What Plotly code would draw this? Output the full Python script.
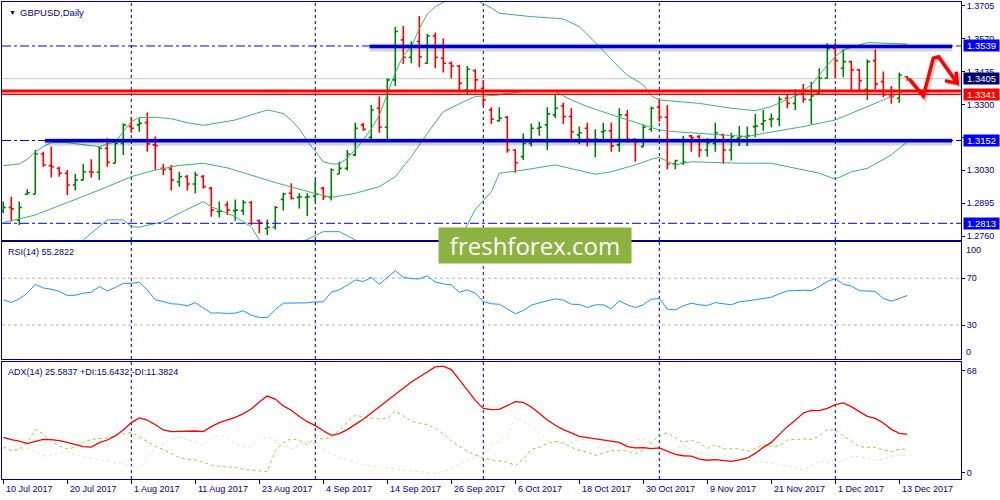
"""
GBPUSD Daily - Nachbau eines MT4-Charts (Kurse, Bollinger-Baender, RSI, ADX) mit Plotly.
"""

import pandas as pd
import plotly.graph_objects as go

NAVY = "#000080"
FONT = "Liberation Sans"

# Handelstage (Mo-Fr) im sichtbaren Bereich
dates = pd.bdate_range("2017-07-10", "2017-12-14")

opens = [
    1.2865, 1.2878, 1.2827, 1.2932, 1.2932, 1.3097, 1.3049, 1.3038, 1.3018, 1.2970,
    1.2990, 1.3024, 1.3022, 1.3120, 1.3059, 1.3140, 1.3209, 1.3216, 1.3225, 1.3134,
    1.3038, 1.3035, 1.2983, 1.3004, 1.2974, 1.3004, 1.2956, 1.2861, 1.2888, 1.2865,
    1.2865, 1.2898, 1.2824, 1.2792, 1.2797, 1.2911, 1.2936, 1.2919, 1.2919, 1.2925,
    1.2956, 1.2919, 1.3015, 1.3038, 1.3093, 1.3216, 1.3165, 1.3284, 1.3206, 1.3400,
    1.3564, 1.3493, 1.3557, 1.3468, 1.3580, 1.3489, 1.3468, 1.3457, 1.3359, 1.3438,
    1.3366, 1.3277, 1.3233, 1.3247, 1.3113, 1.3086, 1.3140, 1.3202, 1.3216, 1.3257,
    1.3293, 1.3250, 1.3175, 1.3202, 1.3154, 1.3188, 1.3192, 1.3134, 1.3257, 1.3157,
    1.3127, 1.3198, 1.3288, 1.3247, 1.3056, 1.3059, 1.3171, 1.3168, 1.3113, 1.3140,
    1.3175, 1.3113, 1.3161, 1.3168, 1.3209, 1.3220, 1.3239, 1.3239, 1.3325, 1.3304,
    1.3343, 1.3318, 1.3345, 1.3407, 1.3529, 1.3448, 1.3475, 1.3441, 1.3362, 1.3479,
    1.3393, 1.3334, 1.3325, 1.3413,
]
highs = [
    1.2902, 1.2922, 1.2902, 1.2952, 1.3113, 1.3106, 1.3127, 1.3045, 1.3031, 1.3015,
    1.3056, 1.3075, 1.3127, 1.3161, 1.3147, 1.3222, 1.3247, 1.3243, 1.3267, 1.3168,
    1.3056, 1.3052, 1.3024, 1.3011, 1.3024, 1.3011, 1.2963, 1.2902, 1.2902, 1.2911,
    1.2908, 1.2904, 1.2829, 1.2829, 1.2884, 1.2938, 1.2977, 1.2936, 1.2936, 1.2990,
    1.2963, 1.3038, 1.3065, 1.3113, 1.3225, 1.3225, 1.3297, 1.3332, 1.3407, 1.3618,
    1.3621, 1.3557, 1.3662, 1.3588, 1.3594, 1.3570, 1.3475, 1.3461, 1.3457, 1.3444,
    1.3400, 1.3288, 1.3288, 1.3252, 1.3116, 1.3181, 1.3222, 1.3229, 1.3288, 1.3338,
    1.3307, 1.3284, 1.3209, 1.3225, 1.3198, 1.3225, 1.3225, 1.3284, 1.3277, 1.3161,
    1.3216, 1.3291, 1.3325, 1.3297, 1.3072, 1.3171, 1.3175, 1.3175, 1.3161, 1.3225,
    1.3181, 1.3184, 1.3211, 1.3209, 1.3261, 1.3277, 1.3263, 1.3332, 1.3338, 1.3362,
    1.3383, 1.3393, 1.3448, 1.3550, 1.3553, 1.3525, 1.3479, 1.3444, 1.3484, 1.3525,
    1.3434, 1.3375, 1.3430, 1.3416,
]
lows = [
    1.2854, 1.2820, 1.2806, 1.2929, 1.2932, 1.3045, 1.3001, 1.3004, 1.2929, 1.2947,
    1.2990, 1.3001, 1.2990, 1.3045, 1.3059, 1.3093, 1.3184, 1.3188, 1.3106, 1.3031,
    1.3011, 1.2947, 1.2963, 1.2947, 1.2936, 1.2956, 1.2840, 1.2837, 1.2847, 1.2824,
    1.2847, 1.2806, 1.2772, 1.2765, 1.2788, 1.2865, 1.2911, 1.2874, 1.2843, 1.2902,
    1.2908, 1.2906, 1.3015, 1.3029, 1.3089, 1.3192, 1.3157, 1.3184, 1.3151, 1.3375,
    1.3465, 1.3468, 1.3452, 1.3465, 1.3448, 1.3430, 1.3407, 1.3359, 1.3343, 1.3348,
    1.3293, 1.3220, 1.3229, 1.3102, 1.3020, 1.3072, 1.3127, 1.3171, 1.3113, 1.3243,
    1.3220, 1.3151, 1.3138, 1.3127, 1.3083, 1.3154, 1.3106, 1.3106, 1.3143, 1.3065,
    1.3124, 1.3188, 1.3229, 1.3034, 1.3034, 1.3052, 1.3106, 1.3083, 1.3086, 1.3106,
    1.3056, 1.3070, 1.3130, 1.3130, 1.3165, 1.3192, 1.3206, 1.3211, 1.3284, 1.3277,
    1.3307, 1.3220, 1.3343, 1.3407, 1.3407, 1.3411, 1.3359, 1.3359, 1.3318, 1.3362,
    1.3329, 1.3302, 1.3307, 1.3397,
]
closes = [
    1.2878, 1.2872, 1.2878, 1.2938, 1.3097, 1.3052, 1.3045, 1.3018, 1.2970, 1.2990,
    1.3024, 1.3022, 1.3120, 1.3063, 1.3140, 1.3216, 1.3202, 1.3222, 1.3138, 1.3131,
    1.3034, 1.2990, 1.3004, 1.2974, 1.3011, 1.2963, 1.2867, 1.2863, 1.2867, 1.2867,
    1.2898, 1.2813, 1.2816, 1.2797, 1.2878, 1.2933, 1.2915, 1.2922, 1.2922, 1.2933,
    1.2922, 1.3031, 1.3038, 1.3097, 1.3202, 1.3198, 1.3277, 1.3206, 1.3400, 1.3598,
    1.3493, 1.3539, 1.3495, 1.3580, 1.3493, 1.3468, 1.3457, 1.3386, 1.3444, 1.3400,
    1.3318, 1.3239, 1.3243, 1.3113, 1.3061, 1.3140, 1.3202, 1.3206, 1.3261, 1.3284,
    1.3250, 1.3188, 1.3184, 1.3157, 1.3157, 1.3192, 1.3130, 1.3257, 1.3157, 1.3147,
    1.3206, 1.3284, 1.3247, 1.3056, 1.3070, 1.3064, 1.3164, 1.3113, 1.3143, 1.3184,
    1.3113, 1.3168, 1.3168, 1.3171, 1.3211, 1.3233, 1.3241, 1.3321, 1.3304, 1.3338,
    1.3321, 1.3334, 1.3407, 1.3529, 1.3479, 1.3475, 1.3441, 1.3397, 1.3475, 1.3383,
    1.3338, 1.3332, 1.3420, 1.3405,
]

bb_upper = [
    (0, 1.3049), (2, 1.3056), (3, 1.3075), (4, 1.3106), (5, 1.3127), (6, 1.3143),
    (8, 1.3143), (10, 1.3134), (12, 1.3127), (14, 1.3147), (15, 1.3188), (16, 1.3229),
    (17, 1.3246), (19, 1.3247), (21, 1.3241), (23, 1.3225), (25, 1.3214), (27, 1.3225),
    (29, 1.3236), (31, 1.3257), (33, 1.3277), (34, 1.3270), (35, 1.3262), (36, 1.3235),
    (37, 1.3200), (38, 1.3150), (39, 1.3105), (40, 1.3065), (41, 1.3056), (42, 1.3056),
    (43, 1.3080), (44, 1.3115), (45, 1.3155), (46, 1.3200), (47, 1.3255), (48, 1.3340),
    (49, 1.3430), (50, 1.3500), (51, 1.3536), (52, 1.3610), (53, 1.3670), (54, 1.3700),
    (55, 1.3718), (56, 1.3735), (58, 1.3745), (59, 1.3730), (60, 1.3712), (61, 1.3695),
    (62, 1.3673), (66, 1.3659), (70, 1.3650), (72, 1.3618), (74, 1.3555), (75, 1.3520),
    (77, 1.3450), (78, 1.3420), (80, 1.3380), (81, 1.3335), (82, 1.3318), (87, 1.3304),
    (91, 1.3284), (94, 1.3274), (96, 1.3291), (99, 1.3335), (101, 1.3379), (102, 1.3420),
    (103, 1.3460), (104, 1.3495), (105, 1.3523), (108, 1.3553), (113, 1.3547),
]
bb_middle = [
    (0, 1.2816), (4, 1.2847), (8, 1.2898), (12, 1.2949), (16, 1.3004), (19, 1.3031),
    (22, 1.3050), (25, 1.3059), (28, 1.3040), (30, 1.3020), (34, 1.2980), (39, 1.2935),
    (41, 1.2919), (44, 1.2936), (47, 1.2963), (49, 1.3004), (51, 1.3086), (53, 1.3181),
    (55, 1.3270), (58, 1.3318), (59, 1.3332), (62, 1.3338), (63, 1.3345), (66, 1.3356),
    (69, 1.3352), (71, 1.3318), (73, 1.3291), (77, 1.3247), (80, 1.3216), (82, 1.3195),
    (84, 1.3188), (87, 1.3181), (90, 1.3175), (93, 1.3168), (95, 1.3181), (100, 1.3209),
    (104, 1.3236), (108, 1.3291), (113, 1.3359),
]
bb_lower = [
    (0, 1.2620), (6, 1.2660), (10, 1.2745), (13, 1.2827), (15, 1.2827), (16, 1.2799),
    (17, 1.2797), (20, 1.2820), (22, 1.2854), (25, 1.2902), (26, 1.2881), (29, 1.2840),
    (31, 1.2799), (32, 1.2745), (35, 1.2700), (38, 1.2747), (40, 1.2779), (42, 1.2779),
    (44, 1.2745), (48, 1.2650), (53, 1.2640), (56, 1.2700), (57, 1.2745), (59, 1.2870),
    (61, 1.2942), (62, 1.3018), (65, 1.3031), (69, 1.3052), (74, 1.3014), (76, 1.3024),
    (79, 1.3052), (81, 1.3075), (82, 1.3083), (84, 1.3052), (86, 1.3065), (92, 1.3059),
    (96, 1.3059), (102, 1.3018), (104, 1.2993), (106, 1.3024), (108, 1.3038), (111, 1.3093),
    (113, 1.3147),
]

rsi = [
    51.6, 49.2, 52.4, 57.2, 64.8, 61.7, 60.6, 58.9, 55.3, 55.5,
    57.2, 58.1, 62.9, 59.2, 62.1, 65.7, 65.7, 66.6, 60.1, 51.6,
    50.1, 48.2, 47.8, 46.4, 49.2, 45.0, 40.2, 40.4, 39.9, 40.2,
    42.2, 38.4, 36.5, 36.5, 43.3, 48.7, 48.7, 48.7, 49.0, 49.8,
    49.8, 58.1, 60.1, 64.1, 68.6, 67.2, 70.8, 64.8, 70.6, 76.5,
    70.8, 69.7, 69.4, 72.0, 66.8, 65.2, 64.3, 58.1, 60.1, 57.2,
    50.1, 48.2, 47.8, 43.9, 39.7, 42.4, 47.0, 49.0, 51.0, 52.4,
    51.3, 47.8, 47.6, 45.0, 47.3, 47.3, 43.9, 50.7, 47.3, 45.0,
    47.3, 52.1, 52.7, 43.6, 43.0, 46.4, 48.7, 47.3, 46.7, 49.2,
    48.2, 47.3, 49.8, 50.4, 51.6, 52.7, 53.8, 56.7, 59.2, 59.4,
    59.8, 59.4, 62.9, 67.2, 69.7, 64.8, 63.4, 59.4, 59.4, 58.8,
    52.7, 50.4, 52.7, 55.3,
]
adx = [
    23.6, 22.0, 21.1, 19.4, 20.9, 22.2, 22.0, 21.4, 20.2, 18.9,
    17.4, 17.1, 20.0, 21.8, 24.5, 28.5, 33.4, 36.5, 35.1, 32.0,
    28.5, 27.4, 27.6, 28.0, 27.8, 27.4, 30.7, 33.4, 35.1, 36.9,
    39.4, 42.5, 47.1, 51.1, 49.1, 44.5, 41.6, 37.4, 34.0, 31.4,
    28.0, 24.9, 26.0, 28.7, 32.2, 35.6, 39.8, 44.0, 48.2, 52.5,
    56.7, 60.5, 63.8, 67.3, 70.5, 71.1, 68.7, 62.0, 55.1, 48.2,
    42.9, 42.0, 42.2, 44.7, 47.4, 46.9, 43.8, 39.6, 35.1, 31.6,
    28.7, 26.5, 24.2, 23.4, 22.5, 22.0, 20.9, 20.2, 17.4, 16.5,
    16.7, 16.0, 16.5, 14.2, 12.2, 11.3, 11.1, 9.1, 8.3, 8.7,
    8.0, 7.6, 8.5, 9.8, 12.9, 16.9, 20.2, 25.6, 30.7, 34.9,
    39.8, 41.6, 41.4, 42.9, 45.4, 46.5, 44.0, 40.7, 37.6, 36.2,
    33.1, 28.9, 26.2, 25.6,
]
plus_di = [
    17.4, 14.7, 15.6, 20.2, 28.7, 25.8, 21.1, 17.8, 15.8, 17.1,
    20.2, 22.2, 22.7, 23.1, 24.5, 26.0, 26.7, 24.0, 20.7, 17.6,
    15.4, 12.5, 10.0, 8.9, 8.5, 7.1, 5.1, 4.2, 4.0, 3.6,
    2.2, 1.6, 0.9, 0.7, 14.7, 20.0, 22.7, 21.6, 18.7, 23.1,
    22.5, 23.6, 28.5, 33.6, 38.5, 36.9, 36.2, 35.8, 36.2, 41.1,
    38.0, 34.2, 33.1, 32.0, 29.6, 25.8, 21.1, 17.4, 14.2, 11.8,
    9.8, 8.5, 8.0, 7.1, 4.7, 9.1, 15.6, 16.9, 19.4, 20.9,
    19.8, 16.9, 14.7, 14.0, 11.4, 12.9, 14.7, 14.7, 14.5, 12.7,
    14.9, 20.0, 24.9, 26.5, 23.1, 20.2, 21.8, 19.8, 16.2, 18.5,
    16.0, 16.0, 15.8, 14.2, 16.0, 18.9, 17.6, 17.8, 21.8, 22.2,
    22.5, 22.2, 24.5, 28.7, 28.5, 24.7, 20.9, 17.4, 16.9, 16.9,
    15.1, 14.0, 15.6, 15.6,
]
minus_di = [
    16.2, 14.5, 15.6, 16.2, 14.0, 11.3, 11.3, 13.4, 14.2, 12.0,
    10.7, 9.8, 8.9, 7.8, 6.9, 5.6, 4.5, 2.9, 9.4, 16.9,
    19.6, 22.2, 23.6, 22.0, 20.7, 18.2, 22.9, 25.1, 22.7, 19.4,
    17.8, 17.1, 21.8, 24.0, 21.8, 17.6, 16.0, 18.5, 20.7, 18.9,
    15.6, 12.5, 10.0, 8.5, 6.9, 5.6, 4.5, 4.0, 3.3, 2.5,
    1.8, 1.1, 0.5, 0.1, 0.0, 0.7, 3.1, 6.5, 8.5, 10.5,
    12.2, 18.2, 20.7, 25.6, 37.0, 34.5, 30.7, 25.8, 21.6, 20.5,
    18.7, 20.5, 22.0, 22.7, 18.2, 16.5, 17.1, 19.4, 19.4, 21.8,
    22.7, 19.1, 15.1, 12.0, 15.8, 17.8, 15.6, 13.1, 11.6, 10.7,
    11.6, 10.0, 8.9, 8.2, 7.8, 7.4, 6.5, 5.6, 4.5, 3.1,
    1.8, 4.5, 8.0, 6.9, 6.2, 8.5, 10.9, 10.7, 9.6, 8.5,
    8.7, 10.9, 11.8, 11.4,
]

price_ticks = [1.3705, 1.3570, 1.3435, 1.3300, 1.3165, 1.3030, 1.2895, 1.2760]
hidden_ticks = [1.3165]  # liegt im Reference-Bild unter der 1.3152-Box
rsi_ticks = [70, 30]
rsi_levels = [70, 30]
adx_ticks = [68, 0]

# gezeichnete Objekte im Kurschart
dashdot_levels = [1.3539, 1.3152, 1.2813]
thick_segments = [(45.8, 118.6, 1.3537), (5.2, 118.6, 1.3151)]
red_levels = [(1.3355, 3), (1.3341, 1.5)]
bid_level = 1.3405
price_boxes = [
    ("1.3539", 1.3539, "#0000ff"),
    ("1.3405", 1.3405, "#000070"),
    ("1.3341", 1.3341, "#ff0000"),
    ("1.3152", 1.3152, "#0000ff"),
    ("1.2813", 1.2813, "#0000ff"),
]
arrow_path = [(113.25, 1.3403), (115.0, 1.3334), (116.25, 1.3489), (116.9, 1.3495), (119.25, 1.3386)]
arrow_head = [(119.1, 1.3434), (119.25, 1.3386), (117.7, 1.3397)]

n = len(dates)
bars = list(range(n))
label_idx = list(range(0, n, 8))
month_idx = [i for i in range(1, n) if dates[i].month != dates[i - 1].month]

fig = go.Figure()

fig.add_trace(go.Ohlc(
    x=bars, open=opens, high=highs, low=lows, close=closes,
    increasing=dict(line=dict(color="#008000", width=1.6)),
    decreasing=dict(line=dict(color="#ff0000", width=1.6)),
    tickwidth=0.32, hoverinfo="skip", showlegend=False,
    xaxis="x", yaxis="y",
))
for band in (bb_upper, bb_middle, bb_lower):
    fig.add_trace(go.Scatter(
        x=[p[0] for p in band], y=[p[1] for p in band], mode="lines",
        line=dict(color="#3cb371", width=1), hoverinfo="skip", showlegend=False,
        xaxis="x", yaxis="y",
    ))

fig.add_trace(go.Scatter(
    x=bars, y=rsi, mode="lines", line=dict(color="#1e90ff", width=1),
    hoverinfo="skip", showlegend=False, xaxis="x2", yaxis="y2",
))

fig.add_trace(go.Scatter(
    x=bars, y=minus_di, mode="lines", line=dict(color="#f5deb3", width=1, dash="dot"),
    hoverinfo="skip", showlegend=False, xaxis="x3", yaxis="y3",
))
fig.add_trace(go.Scatter(
    x=bars, y=plus_di, mode="lines", line=dict(color="#9acd32", width=1, dash="dot"),
    hoverinfo="skip", showlegend=False, xaxis="x3", yaxis="y3",
))
fig.add_trace(go.Scatter(
    x=bars, y=adx, mode="lines", line=dict(color="#ff0000", width=1.3),
    hoverinfo="skip", showlegend=False, xaxis="x3", yaxis="y3",
))

shapes = []
for yref in ("y", "y2", "y3"):
    for m in month_idx:
        shapes.append(dict(
            type="line", xref="x", yref=f"{yref} domain", x0=m, x1=m, y0=0, y1=1,
            line=dict(color=NAVY, width=1, dash="3px,3px"), layer="below",
        ))
for lvl in rsi_levels:
    shapes.append(dict(
        type="line", xref="paper", yref="y2", x0=0, x1=1, y0=lvl, y1=lvl,
        line=dict(color="#b4b4b4", width=1, dash="3px,3px"), layer="below",
    ))
shapes.append(dict(
    type="line", xref="paper", yref="y", x0=0, x1=1, y0=bid_level, y1=bid_level,
    line=dict(color="#c8c8c8", width=1), layer="below",
))
for lvl in dashdot_levels:
    shapes.append(dict(
        type="line", xref="paper", yref="y", x0=0, x1=1, y0=lvl, y1=lvl,
        line=dict(color="#0000ff", width=1, dash="dashdot"),
    ))
for x0, x1, lvl in thick_segments:
    shapes.append(dict(
        type="line", xref="x", yref="y", x0=x0, x1=x1, y0=lvl - 0.0004, y1=lvl - 0.0004,
        line=dict(color="rgba(0,0,0,0.16)", width=8),
    ))
    shapes.append(dict(
        type="line", xref="x", yref="y", x0=x0, x1=x1, y0=lvl, y1=lvl,
        line=dict(color="#0000cd", width=3.5),
    ))
for lvl, w in red_levels:
    shapes.append(dict(
        type="line", xref="paper", yref="y", x0=0, x1=1, y0=lvl, y1=lvl,
        line=dict(color="#ff0000", width=w),
    ))


def svg_path(points, shift=(0.0, 0.0)):
    return "M " + " L ".join(f"{x + shift[0]},{y + shift[1]}" for x, y in points)


arrow_svg = svg_path(arrow_path) + " " + svg_path(arrow_head)
arrow_shadow = svg_path(arrow_path, (0.2, -0.0005)) + " " + svg_path(arrow_head, (0.2, -0.0005))
shapes.append(dict(type="path", xref="x", yref="y", path=arrow_shadow,
                   line=dict(color="rgba(0,0,0,0.18)", width=5)))
shapes.append(dict(type="path", xref="x", yref="y", path=arrow_svg,
                   line=dict(color="#ff0000", width=3.5)))

annotations = []
for text, lvl, color in price_boxes:
    annotations.append(dict(
        xref="paper", yref="y", x=1, y=lvl, xanchor="left", yanchor="middle",
        xshift=2, text=text, showarrow=False, bgcolor=color, width=35, height=11,
        borderpad=0, font=dict(family=FONT, size=9.5, color="white"),
    ))
for i in label_idx:
    d = dates[i]
    annotations.append(dict(
        xref="x3", yref="paper", x=i, y=0, xanchor="left", yanchor="top",
        xshift=1, yshift=-3, text=f"{d.day} {d:%b %Y}", showarrow=False,
        font=dict(family=FONT, size=9, color=NAVY),
    ))
annotations += [
    dict(xref="paper", yref="y domain", x=0.005, y=1, xanchor="left", yanchor="top",
         yshift=-5, text="▼", showarrow=False, font=dict(family=FONT, size=7, color=NAVY)),
    dict(xref="paper", yref="y domain", x=0.017, y=1, xanchor="left", yanchor="top",
         yshift=-3, text="GBPUSD,Daily", showarrow=False,
         font=dict(family=FONT, size=9.5, color=NAVY)),
    dict(xref="paper", yref="y2 domain", x=0.004, y=1, xanchor="left", yanchor="top",
         yshift=-3, text=f"RSI(14) {55.2822:.4f}", showarrow=False,
         font=dict(family=FONT, size=9, color=NAVY)),
    dict(xref="paper", yref="y3 domain", x=0.004, y=1, xanchor="left", yanchor="top",
         yshift=-3, text="ADX(14) 25.5837 +DI:15.6432 -DI:11.3824", showarrow=False,
         font=dict(family=FONT, size=9, color=NAVY)),
    dict(xref="paper", yref="y2 domain", x=1, y=1, xanchor="left", yanchor="top",
         xshift=3, yshift=-1, text="100", showarrow=False,
         font=dict(family=FONT, size=9, color=NAVY)),
    dict(xref="paper", yref="y2 domain", x=1, y=0, xanchor="left", yanchor="bottom",
         xshift=3, yshift=0, text="0", showarrow=False,
         font=dict(family=FONT, size=9, color=NAVY)),
    # Wasserzeichen
    dict(xref="paper", yref="paper", x=0.5558, y=0.4895, xanchor="center", yanchor="middle",
         text="freshforex.com", showarrow=False, bgcolor="#8cb33f", width=192, height=35,
         borderpad=0, font=dict(family="Open Sans", size=24, color="white")),
]

axis_common = dict(
    showline=True, mirror=True, linecolor=NAVY, linewidth=1,
    showgrid=False, zeroline=False, automargin=False,
)
x_range = [-0.16, 119.71]
tickfont = dict(family=FONT, size=9, color=NAVY)

fig.update_layout(
    width=1000, height=500,
    margin=dict(l=2, r=39, t=2, b=21),
    paper_bgcolor="white", plot_bgcolor="white",
    showlegend=False,
    xaxis=dict(domain=[0, 1], anchor="y", range=x_range, showticklabels=False,
               rangeslider=dict(visible=False), **axis_common),
    xaxis2=dict(domain=[0, 1], anchor="y2", matches="x", range=x_range,
                showticklabels=False, **axis_common),
    xaxis3=dict(domain=[0, 1], anchor="y3", matches="x", range=x_range,
                tickvals=label_idx, ticks="outside", ticklen=4, tickcolor=NAVY,
                showticklabels=False, **axis_common),
    yaxis=dict(domain=[0.5010, 1], anchor="x", side="right", range=[1.27446, 1.3719],
               tickvals=price_ticks,
               ticktext=["" if v in hidden_ticks else f"{v:.4f}" for v in price_ticks],
               ticks="outside", ticklen=3, tickcolor=NAVY, tickfont=tickfont,
               **axis_common),
    yaxis2=dict(domain=[0.2516, 0.4969], anchor="x2", side="right", range=[1, 101],
                tickvals=rsi_ticks, ticks="outside", ticklen=3, tickcolor=NAVY,
                tickfont=tickfont, **axis_common),
    yaxis3=dict(domain=[0, 0.2453], anchor="x3", side="right", range=[-4.2, 73.8],
                tickvals=adx_ticks, ticks="outside", ticklen=3, tickcolor=NAVY,
                tickfont=tickfont, **axis_common),
    shapes=shapes,
    annotations=annotations,
)

# Seitenrand entfernen, damit das 1000x500-Bild genau ins Fenster passt
fig.write_html(
    "out.html",
    config={"displayModeBar": False},
    post_script="document.body.style.margin='0';",
)
